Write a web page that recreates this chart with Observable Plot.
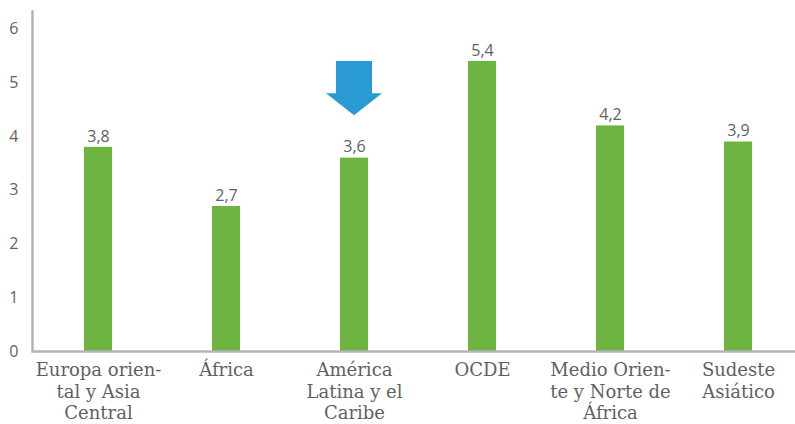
<!DOCTYPE html>
<html>
<head>
<meta charset="utf-8">
<script src="https://cdn.jsdelivr.net/npm/d3@7"></script>
<script src="https://cdn.jsdelivr.net/npm/@observablehq/plot@0.6"></script>
<style>
  html, body { margin: 0; padding: 0; background: #fff; }
  svg { display: block; }
</style>
</head>
<body>
<div id="chart"></div>
<script>
const categories = ["Europa oriental y Asia Central", "África", "América Latina y el Caribe", "OCDE", "Medio Oriente y Norte de África", "Sudeste Asiático"];
const categoryLabels = ["Europa orien-\ntal y Asia\nCentral", "África", "América\nLatina y el\nCaribe", "OCDE", "Medio Orien-\nte y Norte de\nÁfrica", "Sudeste\nAsiático"];
const values = [3.8, 2.7, 3.6, 5.4, 4.2, 3.9];
const valueLabels = ["3,8", "2,7", "3,6", "5,4", "4,2", "3,9"];
const yTicks = [0, 1, 2, 3, 4, 5, 6];
const highlighted = "América Latina y el Caribe";
const arrowShaftTop = 5.4, arrowHeadTop = 4.8, arrowTip = 4.39;

const data = categories.map((c, i) => ({category: c, value: values[i], label: valueLabels[i]}));
const labelOf = new Map(categories.map((c, i) => [c, categoryLabels[i]]));

const arrowMark = (index, scales, vals, dims, context) => {
  const cx = scales.x(highlighted) + scales.x.bandwidth() / 2;
  const y0 = scales.y(arrowShaftTop), y1 = scales.y(arrowHeadTop), y2 = scales.y(arrowTip);
  const sw = 18, hw = 28;
  const p = d3.create("svg:path")
    .attr("fill", "#2a9ad3")
    .attr("d", `M${cx - sw},${y0}H${cx + sw}V${y1}H${cx + hw}L${cx},${y2}L${cx - hw},${y1}H${cx - sw}Z`);
  return p.node();
};

const chart = Plot.plot({
  width: 795,
  height: 424,
  marginLeft: 32,
  marginRight: 0,
  marginTop: 11,
  marginBottom: 73,
  style: {fontFamily: "'Open Sans', sans-serif", color: "#5f5f66", background: "#fff"},
  x: {domain: categories, paddingInner: 0.78, paddingOuter: 0.39, range: [32, 804], label: null},
  y: {domain: [0, 6.33], label: null},
  marks: [
    Plot.barY(data, {x: "category", y: "value", fill: "#6db33f"}),
    Plot.text(data, {x: "category", y: "value", text: "label", dy: -11, fontSize: 16, fill: "#5f5f66"}),
    Plot.frame({anchor: "left", stroke: "#b4b4b8", strokeWidth: 2.5}),
    Plot.ruleY([0], {stroke: "#b4b4b8", strokeWidth: 2.5}),
    Plot.axisY({ticks: yTicks, tickSize: 0, tickPadding: 14, fontSize: 16, tickFormat: d => String(d)}),
    Plot.axisX({tickSize: 0, tickPadding: 10, fontSize: 18, lineHeight: 1.17, fontFamily: "'DejaVu Serif', serif", tickFormat: d => labelOf.get(d)}),
    arrowMark
  ]
});
document.getElementById("chart").append(chart);
</script>
</body>
</html>
